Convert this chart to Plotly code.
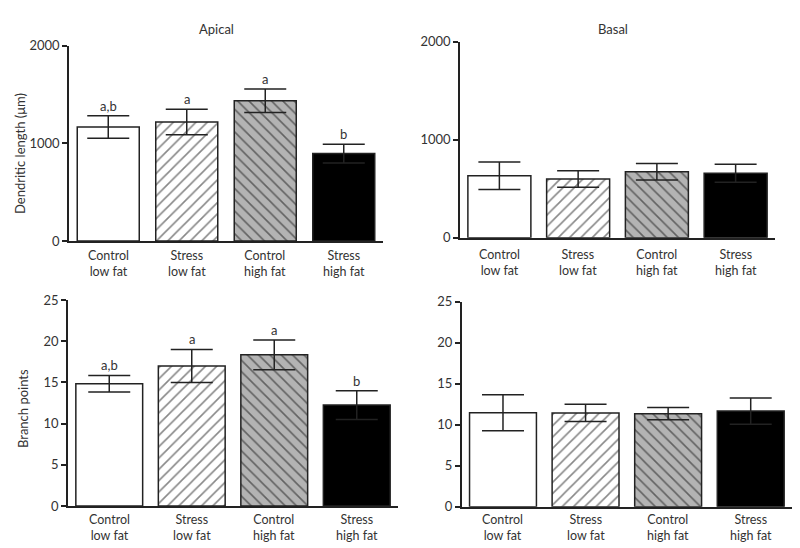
import plotly.graph_objects as go

cat_line1 = ["Control", "Stress", "Control", "Stress"]
cat_line2 = ["low fat", "low fat", "high fat", "high fat"]

apical_length = [1167, 1218, 1434, 894]
apical_length_err = [115, 130, 120, 95]
apical_length_letters = ["a,b", "a", "a", "b"]

basal_length = [633, 599, 673, 657]
basal_length_err = [140, 85, 85, 92]

apical_branch = [14.85, 17.0, 18.35, 12.25]
apical_branch_err = [1.0, 2.0, 1.8, 1.75]
apical_branch_letters = ["a,b", "a", "a", "b"]

basal_branch = [11.46, 11.43, 11.34, 11.67]
basal_branch_err = [2.2, 1.05, 0.75, 1.6]

fill_colors = ["white", "white", "#b3b3b3", "black"]
hatch_shapes = ["", "/", "\\", ""]

FONT = "Lato, 'Open Sans', sans-serif"
INK = "#222222"
TXT = "#333333"

W, H = 800, 548

def px_x(a, b):
    return [a / W, b / W]

def px_y(bottom, top):
    return [(H - bottom) / H, (H - top) / H]

panels = [
    # values, errors, xdomain, ydomain, yrange, dtick, bar width, label offset
    (apical_length, apical_length_err, px_x(69, 383), px_y(241, 45.5), [0, 2000], 1000, 0.79, -22),
    (basal_length, basal_length_err, px_x(460, 775), px_y(237.7, 41.7), [0, 2000], 1000, 0.8, -24.5),
    (apical_branch, apical_branch_err, px_x(68, 398), px_y(506, 300), [0, 25], 5, 0.81, -21),
    (basal_branch, basal_branch_err, px_x(461.7, 792), px_y(506.7, 301.7), [0, 25], 5, 0.81, -21),
]

fig = go.Figure()
layout = {}
annotations = []
for i, (vals, errs, xd, yd, yr, dt, bw, off) in enumerate(panels):
    n = "" if i == 0 else str(i + 1)
    for j in range(len(cat_line1)):
        fig.add_trace(go.Bar(
            x=[j], y=[vals[j]], width=bw,
            xaxis="x" + n, yaxis="y" + n,
            marker=dict(color=fill_colors[j], line=dict(color=INK, width=1.5),
                        pattern=dict(shape=hatch_shapes[j], fgcolor="#111111", bgcolor=fill_colors[j],
                                     size=8, solidity=0.2, fillmode="overlay")),
            error_y=dict(type="data", array=[errs[j]], visible=True, color=INK, thickness=1.5, width=21),
            showlegend=False, hoverinfo="skip",
        ))
        annotations.append(dict(x=j, y=0, xref="x" + n, yref="y" + n,
                                text=cat_line1[j] + "<br>" + cat_line2[j],
                                showarrow=False, xanchor="center", yanchor="middle", yshift=off,
                                font=dict(family=FONT, size=12.5, color=TXT)))
    layout["xaxis" + n] = dict(
        domain=xd, anchor="y" + n, range=[-0.5, 3.5], showticklabels=False,
        showline=True, linecolor=INK, linewidth=1.5, ticks="", showgrid=False, zeroline=False,
        fixedrange=True, automargin=False,
    )
    layout["yaxis" + n] = dict(
        domain=yd, anchor="x" + n, range=yr, dtick=dt, tick0=0,
        showline=True, linecolor=INK, linewidth=1.5, ticks="outside", ticklen=5,
        tickcolor=INK, tickwidth=1.5, showgrid=False, zeroline=False,
        tickfont=dict(family=FONT, size=13, color=TXT), fixedrange=True, automargin=False,
    )

for letters, vals, errs, n in [(apical_length_letters, apical_length, apical_length_err, ""),
                               (apical_branch_letters, apical_branch, apical_branch_err, "3")]:
    for j, t in enumerate(letters):
        annotations.append(dict(x=j, y=vals[j] + errs[j], xref="x" + n, yref="y" + n,
                                text=t, showarrow=False, xanchor="center", yanchor="bottom", yshift=0,
                                font=dict(family=FONT, size=13, color=TXT)))

titles = [("Apical", 216, 29, 0), ("Basal", 613, 29, 0),
          ("Dendritic length (μm)", 20, 154, -90), ("Branch points", 23, 409, -90)]
for txt, xp, yp, ang in titles:
    annotations.append(dict(x=xp / W, y=(H - yp) / H, xref="paper", yref="paper", text=txt,
                            showarrow=False, xanchor="center", yanchor="middle", textangle=ang,
                            font=dict(family=FONT, size=13, color=TXT)))

fig.update_layout(
    width=W, height=H, margin=dict(l=0, r=0, t=0, b=0, autoexpand=False),
    paper_bgcolor="white", plot_bgcolor="white",
    annotations=annotations, barmode="overlay",
    **layout,
)

fig.write_html("out.html", config={"displayModeBar": False},
               post_script="document.body.style.margin='0';document.body.style.overflow='hidden';")
